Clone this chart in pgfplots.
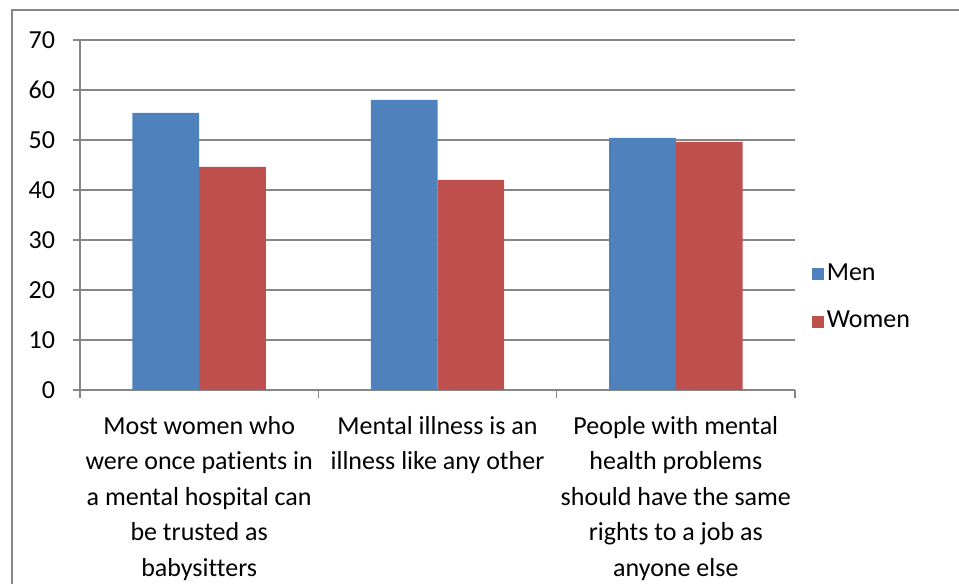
\documentclass[border=0pt]{standalone}
\usepackage{pgfplots}
\pgfplotsset{compat=1.18}
\usepackage{fontspec}
\setmainfont{Carlito}[Ligatures={NoCommon}]
\definecolor{menblue}{HTML}{4F81BD}
\definecolor{womenred}{HTML}{C0504D}
\definecolor{axgray}{HTML}{868686}
\begin{document}
\fontsize{19.5pt}{26.6pt}\selectfont
\begin{tikzpicture}
\useasboundingbox (0,0) rectangle (719.25pt,438pt);
\draw[axgray, line width=0.9pt] (9pt,-2pt) -- (9pt,430.5pt) -- (722pt,430.5pt);
\begin{axis}[
  at={(60pt,145.5pt)}, anchor=south west,
  scale only axis, width=536.25pt, height=262.5pt,
  xmin=-0.5, xmax=2.5, ymin=0, ymax=70,
  ybar=0pt, bar width=0.28,
  axis lines=left, axis line style={-, axgray, line width=0.9pt},
  tick align=outside, major tick length=5pt,
  tick style={axgray, line width=0.9pt},
  ytick={0,10,...,70},
  ymajorgrids, grid style={axgray, line width=0.9pt},
  xtick={0,1,2},
  xtick style={draw=none},
  xticklabels={{Most women who\\were once patients in\\a mental hospital can\\be trusted as\\babysitters},
                {Mental illness is an\\illness like any other},
                {People with mental\\health problems\\should have the same\\rights to a job as\\anyone else}},
  xticklabel style={align=center, font=\fontsize{19.5pt}{26.6pt}\selectfont, anchor=north, yshift=-8pt},
  yticklabel style={font=\fontsize{19.5pt}{22pt}\selectfont, xshift=-7pt},
  /pgf/number format/assume math mode=true,
  extra x ticks={-0.5,0.5,1.5,2.5}, extra x tick labels={},
  extra x tick style={xtick style={draw=axgray}, grid=none, major tick length=6pt},
  legend style={at={(1.018,0.263)}, anchor=west, draw=none, fill=none,
    font=\fontsize{19.5pt}{22pt}\selectfont, row sep=16pt,
    /tikz/every even column/.append style={column sep=3pt}},
  legend cell align=left,
  legend image code/.code={\fill[#1] (0pt,-4.5pt) rectangle (9pt,4.5pt);},
]
\addplot[fill=menblue, draw=none] coordinates {(0,55.4) (1,58.0) (2,50.4)};
\addplot[fill=womenred, draw=none] coordinates {(0,44.6) (1,42.0) (2,49.6)};
\legend{Men, Women}
\end{axis}
\end{tikzpicture}
\end{document}
